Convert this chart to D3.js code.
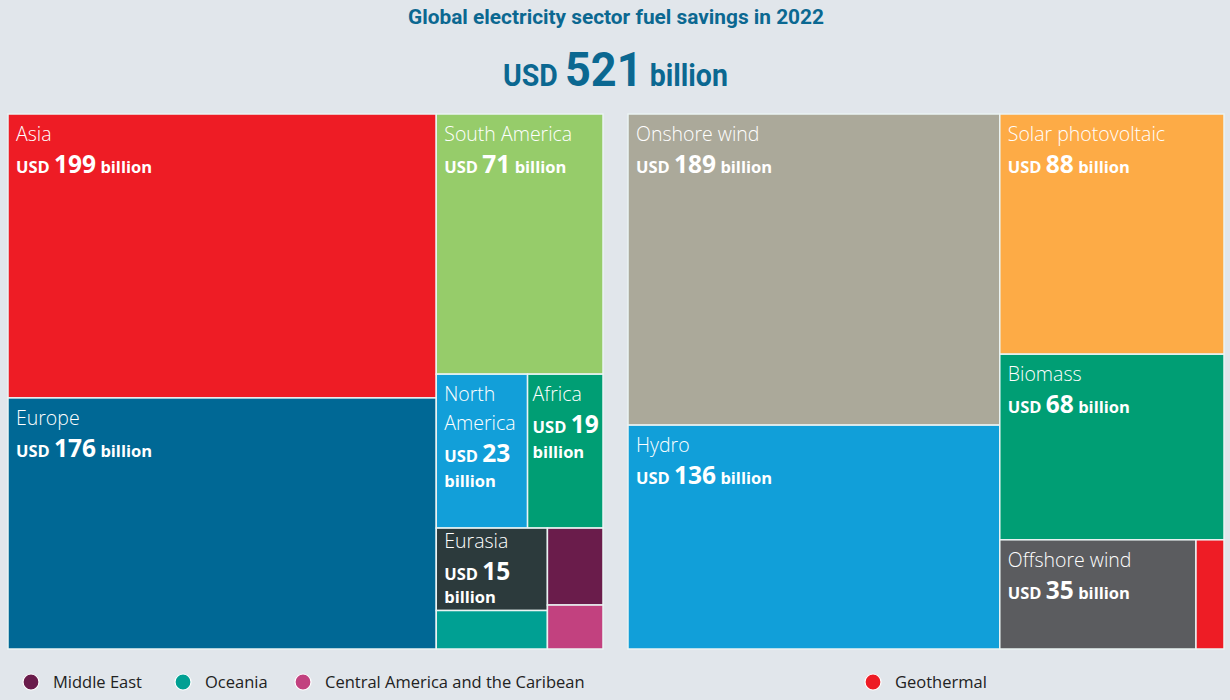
<!DOCTYPE html>
<html>
<head>
<meta charset="utf-8">
<script src="https://cdn.jsdelivr.net/npm/d3@7"></script>
<style>
  body { margin: 0; background: #e1e6eb; }
  svg { display: block; }
</style>
</head>
<body>
<svg id="chart" width="1230" height="700"></svg>
<script>
// values in USD billion
var regions = ["Asia", "Europe", "South America", "North America", "Africa", "Eurasia", "Oceania", "Middle East", "Central America and the Caribean"]
var regionValues = [199, 176, 71, 23, 19, 15, 7, 7, 4]
var regionColors = ["#ee1c25", "#006895", "#96cc6a", "#129fd9", "#009e74", "#2c3a3c", "#00a093", "#6a1c4b", "#c2417f"]

var technologies = ["Onshore wind", "Hydro", "Solar photovoltaic", "Biomass", "Offshore wind", "Geothermal"]
var techValues = [189, 136, 88, 68, 35, 5]
var techColors = ["#aba99a", "#119fd9", "#fdab46", "#009e74", "#5b5c5f", "#ee1c25"]

// grouping of the blocks (slice / dice alternate by depth)
var regionGroups = [["Asia", "Europe"], ["South America", ["North America", "Africa"], [["Eurasia", "Oceania"], ["Middle East", "Central America and the Caribean"]]]]
var techGroups = [["Onshore wind", "Hydro"], ["Solar photovoltaic", "Biomass", ["Offshore wind", "Geothermal"]]]

var regionLegend = ["Middle East", "Oceania", "Central America and the Caribean"]
var techLegend = ["Geothermal"]

var total = 521

var svg = d3.select("#chart")
var titleColor = "#0b6891"

// title
svg.append("text")
  .attr("x", 616).attr("y", 24)
  .attr("text-anchor", "middle")
  .attr("textLength", 416)
  .attr("lengthAdjust", "spacingAndGlyphs")
  .style("font-family", "Roboto")
  .style("font-weight", 700)
  .style("font-size", "20px")
  .style("fill", titleColor)
  .text("Global electricity sector fuel savings in 2022")

var bigG = svg.append("g")
var big = bigG.append("text")
  .attr("x", 0).attr("y", 0)
  .style("font-family", "Roboto")
  .style("font-weight", 700)
  .style("fill", titleColor)
big.append("tspan").style("font-size", "31px").text("USD ")
big.append("tspan").style("font-size", "49px").text(total)
big.append("tspan").style("font-size", "31px").text(" billion")
var bw = big.node().getBBox().width
var sx = 225 / bw
bigG.attr("transform", "translate(503,86) scale(" + sx + ",1)")

function buildTree(groups, names, values) {
  function node(g) {
    if (typeof g === "string") return {name: g, value: values[names.indexOf(g)]}
    return {children: g.map(node)}
  }
  return node(groups)
}

function drawTreemap(groups, names, values, colors, x0, y0, w, h) {
  var color = d3.scaleOrdinal().domain(names).range(colors)
  var root = d3.hierarchy(buildTree(groups, names, values))
    .sum(function (d) { return d.value || 0 })

  d3.treemap()
    .tile(d3.treemapSliceDice)
    .size([w, h])(root)

  var g = svg.append("g").attr("transform", "translate(" + x0 + "," + y0 + ")")

  var cell = g.selectAll("g.cell")
    .data(root.leaves())
    .join("g")
    .attr("class", "cell")
    .attr("transform", function (d) { return "translate(" + d.x0 + "," + d.y0 + ")" })

  cell.append("rect")
    .attr("width", function (d) { return d.x1 - d.x0 })
    .attr("height", function (d) { return d.y1 - d.y0 })
    .style("fill", function (d) { return color(d.data.name) })
    .style("stroke", "#eaf3f3")
    .style("stroke-width", 1.5)

  cell.filter(function (d) { return d.value >= 15 }).each(function (d) {
    var cw = d.x1 - d.x0, ch = d.y1 - d.y0
    var pad = cw < 90 ? 5 : 8
    var maxW = cw - 2 * pad
    var t = d3.select(this).append("text")
      .attr("x", pad)
      .style("fill", "#fff")
      .style("font-family", "'Open Sans'")

    // name, wrapped word by word
    var words = d.data.name.split(" ")
    var lines = [], line = []
    var probe = t.append("tspan").style("font-size", "19.5px").style("font-weight", 300)
    words.forEach(function (wd) {
      var test = line.concat([wd]).join(" ")
      probe.text(test)
      if (line.length && probe.node().getComputedTextLength() > maxW) {
        lines.push(line.join(" "))
        line = [wd]
      } else line.push(wd)
    })
    lines.push(line.join(" "))
    probe.remove()

    var y = ch < 100 ? 20 : 27
    lines.forEach(function (l, i) {
      t.append("tspan").attr("x", pad).attr("y", y + i * 29)
        .style("font-size", "19.5px").style("font-weight", 300)
        .text(l)
    })
    y += (lines.length - 1) * 29 + 32

    var v = t.append("tspan").attr("x", pad).attr("y", y)
    v.append("tspan").style("font-size", "16.5px").style("font-weight", 700).text("USD ")
    v.append("tspan").style("font-size", "24.5px").style("font-weight", 700).text(d.value)
    var bil = v.append("tspan").style("font-size", "16.5px").style("font-weight", 700).text(" billion")
    if (t.node().getBBox().width > maxW + 2) {
      bil.remove()
      t.append("tspan").attr("x", pad).attr("y", y + (ch < 100 ? 23 : 25))
        .style("font-size", "16.5px").style("font-weight", 700)
        .text("billion")
    }
  })

  return color
}

var regionColor = drawTreemap(regionGroups, regions, regionValues, regionColors, 8, 114, 595, 535)
var techColor = drawTreemap(techGroups, technologies, techValues, techColors, 628, 114, 596, 535)

// legends
function drawLegend(items, color, xs) {
  var lg = svg.append("g")
  items.forEach(function (name, i) {
    lg.append("circle")
      .attr("cx", xs[i]).attr("cy", 682).attr("r", 8)
      .style("fill", color(name))
      .style("stroke", "#fff").style("stroke-width", 1.2)
    lg.append("text")
      .attr("x", xs[i] + 22).attr("y", 688)
      .style("font-family", "'Open Sans'")
      .style("font-size", "16.5px")
      .style("fill", "#222")
      .text(name)
  })
}
drawLegend(regionLegend, regionColor, [31, 183, 303])
drawLegend(techLegend, techColor, [873])
</script>
</body>
</html>
